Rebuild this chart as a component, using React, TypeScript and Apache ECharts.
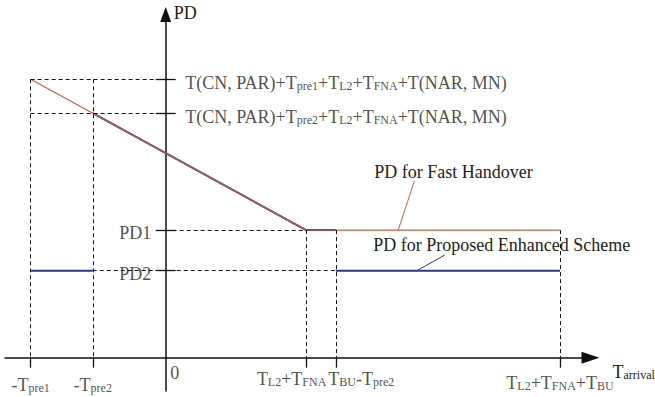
import React, { useEffect, useRef } from 'react';
import * as echarts from 'echarts';

// ---- data ----
const xTickValues = [-5, -2.7, 0, 5.2, 6.3, 14.6];
const xTickNames = ['-T_{pre1}', '-T_{pre2}', '0', 'T_{L2}+T_{FNA}', 'T_{BU}-T_{pre2}', 'T_{L2}+T_{FNA}+T_{BU}'];
const yTickValues = [3.0, 4.4, 8.43, 9.6];
const yTickNames = [
  'PD2',
  'PD1',
  'T(CN, PAR)+T_{pre2}+T_{L2}+T_{FNA}+T(NAR, MN)',
  'T(CN, PAR)+T_{pre1}+T_{L2}+T_{FNA}+T(NAR, MN)',
];
const seriesNames = ['PD for Fast Handover', 'PD for Proposed Enhanced Scheme'];
const axisNames = ['T_{arrival}', 'PD'];
const fastHandover = [[-5, 9.6], [5.2, 4.4], [14.6, 4.4]];
const proposedScheme: any[] = [
  [-5, 3.0], [-2.7, 3.0], [-2.7, '-'],
  [-2.7, 8.43], [5.2, 4.4], [6.3, 4.4], [6.3, '-'],
  [6.3, 3.0], [14.6, 3.0],
];
const guideSegments = [
  [[-5, 9.6], [0, 9.6]],
  [[-5, 8.43], [0, 8.43]],
  [[-5, 9.6], [-5, 0]],
  [[-2.7, 9.6], [-2.7, 0]],
  [[0, 4.4], [5.2, 4.4]],
  [[-2.7, 3.0], [6.3, 3.0]],
  [[5.2, 4.4], [5.2, 0]],
  [[6.3, 4.4], [6.3, 0]],
  [[14.6, 4.4], [14.6, 0]],
];
const leaderFast = [[9.21, 6.1], [8.61, 4.4]];
const leaderProposed = [[10.33, 3.54], [9.3, 3.0]];
const labelFastAt = [10.66, 6.41];
const labelProposedAt = [12.44, 3.886];

const FONT = '"Liberation Serif", "Times New Roman", serif';
const TEXT = '#222';
const RED = '#c4603f';
const BLUE = '#2f3585';
const AX = '#111';

function toRich(s: string, m = 'm', sb = 's') {
  const parts = s.split(/_\{([^}]*)\}/);
  return parts.map((p, i) => (p === '' ? '' : `{${i % 2 ? sb : m}|${p}}`)).join('');
}

const richStyles: any = {
  m: { fontSize: 18, fontFamily: FONT, color: TEXT, lineHeight: 20, verticalAlign: 'bottom' },
  s: { fontSize: 12, fontFamily: FONT, color: TEXT, lineHeight: 12, verticalAlign: 'bottom' },
  sn: { fontSize: 12, fontFamily: FONT, color: TEXT, lineHeight: 16, verticalAlign: 'bottom' },
  z: { fontSize: 18, fontFamily: FONT, color: TEXT, lineHeight: 14, verticalAlign: 'middle' },
  p22: { lineHeight: 22, width: 0 },
  p24: { lineHeight: 24, width: 0 },
  p26: { lineHeight: 26, width: 0 },
  p28: { lineHeight: 28, width: 0 },
  p46: { lineHeight: 46, width: 0 },
  w18: { width: 18, lineHeight: 1 },
  w29: { width: 29, lineHeight: 1 },
  w51: { width: 51, lineHeight: 1 },
};

function idxOf(arr: number[], v: number) {
  return arr.findIndex((a) => Math.abs(a - v) < 1e-6);
}

function xLabel(v: number) {
  const i = idxOf(xTickValues, v);
  if (i < 0) return '';
  const n = xTickNames[i];
  if (i === 2) return `{w18|}{z|${n}}`;
  if (i === 3) return `{p22|}${toRich(n)}{w29|}`;
  if (i === 4) return `{p22|}{w51|}${toRich(n)}`;
  if (i === 5) return `{p26|}${toRich(n)}`;
  return `{p28|}${toRich(n)}`;
}

function yLabel(v: number) {
  const i = idxOf(yTickValues, v);
  if (i < 0) return '';
  const n = yTickNames[i];
  if (i < 2) return `{p24|}${toRich(n)}`;
  return `{p26|}${toRich(n)}`;
}

const segs = (list: number[][][]) => list.map((s) => [{ coord: s[0] }, { coord: s[1] }]);

const labelSeriesBase = {
  type: 'scatter',
  silent: true,
  symbol: 'circle',
  symbolSize: 1,
  itemStyle: { color: 'rgba(0,0,0,0)' },
  z: 5,
};

export default function App() {
  const ref = useRef<HTMLDivElement>(null);
  useEffect(() => {
    if (!ref.current) return;
    const chart = echarts.init(ref.current, undefined, { renderer: 'svg' });
    const yCommon = {
      type: 'value',
      min: -1.148,
      max: 11.834,
      splitLine: { show: false },
    };
    chart.setOption({
      animation: false,
      backgroundColor: '#fff',
      grid: { left: 5, top: 14.5, width: 585.5, height: 376.5, outerBoundsMode: 'none', containLabel: false },
      xAxis: {
        type: 'value',
        min: -5.95,
        max: 15.73,
        splitLine: { show: false },
        name: '{p46|}' + toRich(axisNames[0], 'm', 'sn'),
        nameLocation: 'end',
        nameGap: 22,
        nameMoveOverlap: false,
        nameTextStyle: { align: 'left', verticalAlign: 'middle', rich: richStyles },
        axisLine: {
          show: true,
          onZero: true,
          onZeroAxisIndex: 0,
          symbol: ['none', 'triangle'],
          symbolSize: [12, 18],
          lineStyle: { color: AX, width: 1.5 },
        },
        axisTick: {
          show: true,
          length: 10,
          customValues: xTickValues.filter((v) => v !== 0),
          lineStyle: { color: AX, width: 1.3 },
        },
        axisLabel: { show: false },
      },
      yAxis: [
        {
          ...yCommon,
          position: 'left',
          name: axisNames[1],
          nameLocation: 'end',
          nameGap: 1.5,
          nameMoveOverlap: false,
          nameTextStyle: {
            fontSize: 18,
            fontFamily: FONT,
            color: TEXT,
            align: 'left',
            verticalAlign: 'middle',
            padding: [0, 0, 0, 8],
          },
          axisLine: {
            show: true,
            onZero: true,
            onZeroAxisIndex: 0,
            symbol: ['none', 'triangle'],
            symbolSize: [11, 15],
            lineStyle: { color: AX, width: 1.5 },
          },
          axisTick: {
            show: true,
            length: 10,
            customValues: yTickValues,
            lineStyle: { color: AX, width: 1.3 },
          },
          axisLabel: { show: false },
        },
        {
          ...yCommon,
          position: 'left',
          axisLine: { show: false, onZero: true, onZeroAxisIndex: 0 },
          axisTick: {
            show: true,
            inside: true,
            length: 10,
            customValues: yTickValues,
            lineStyle: { color: AX, width: 1.3 },
          },
          axisLabel: { show: false },
        },
      ],
      series: [
        {
          name: 'guides',
          type: 'line',
          data: [],
          silent: true,
          z: 1,
          markLine: {
            silent: true,
            symbol: ['none', 'none'],
            label: { show: false },
            emphasis: { disabled: true },
            lineStyle: { color: AX, type: [4, 3], width: 1 },
            data: segs(guideSegments),
          },
        },
        {
          name: seriesNames[1],
          type: 'line',
          data: proposedScheme,
          showSymbol: false,
          symbol: 'none',
          connectNulls: false,
          silent: true,
          z: 2,
          lineStyle: { color: BLUE, width: 2 },
          itemStyle: { color: BLUE },
          markLine: {
            silent: true,
            symbol: ['none', 'none'],
            label: { show: false },
            emphasis: { disabled: true },
            lineStyle: { color: BLUE, type: 'solid', width: 1 },
            data: segs([leaderProposed]),
          },
          markPoint: {
            silent: true,
            symbol: 'circle',
            symbolSize: 1,
            itemStyle: { color: 'rgba(0,0,0,0)' },
            label: {
              show: true,
              position: 'inside',
              formatter: seriesNames[1],
              fontSize: 18,
              fontFamily: FONT,
              color: TEXT,
            },
            data: [{ coord: labelProposedAt }],
          },
        },
        {
          name: seriesNames[0],
          type: 'line',
          data: fastHandover,
          showSymbol: false,
          symbol: 'none',
          silent: true,
          z: 3,
          lineStyle: { color: RED, width: 1.2 },
          itemStyle: { color: RED },
          markLine: {
            silent: true,
            symbol: ['none', 'none'],
            label: { show: false },
            emphasis: { disabled: true },
            lineStyle: { color: RED, type: 'solid', width: 1 },
            data: segs([leaderFast]),
          },
          markPoint: {
            silent: true,
            symbol: 'circle',
            symbolSize: 1,
            itemStyle: { color: 'rgba(0,0,0,0)' },
            label: {
              show: true,
              position: 'inside',
              formatter: seriesNames[0],
              fontSize: 18,
              fontFamily: FONT,
              color: TEXT,
            },
            data: [{ coord: labelFastAt }],
          },
        },
        {
          ...labelSeriesBase,
          name: 'xTickLabels',
          data: xTickValues.map((v) => [v, 0]),
          label: {
            show: true,
            position: 'bottom',
            distance: 8,
            rich: richStyles,
            formatter: (p: any) => xLabel(p.value[0]),
          },
        },
        {
          ...labelSeriesBase,
          name: 'yTickLabels',
          data: yTickValues.map((v, i) => ({
            value: [0, v],
            label: i < 2 ? { position: 'left', distance: 14 } : { position: 'right', distance: 19 },
          })),
          label: {
            show: true,
            rich: richStyles,
            formatter: (p: any) => yLabel(p.value[1]),
          },
        },
      ],
    });
    return () => chart.dispose();
  }, []);
  return (
    <div
      ref={ref}
      style={{ position: 'absolute', left: 0, top: 0, width: 655, height: 397, background: '#fff' }}
    />
  );
}
